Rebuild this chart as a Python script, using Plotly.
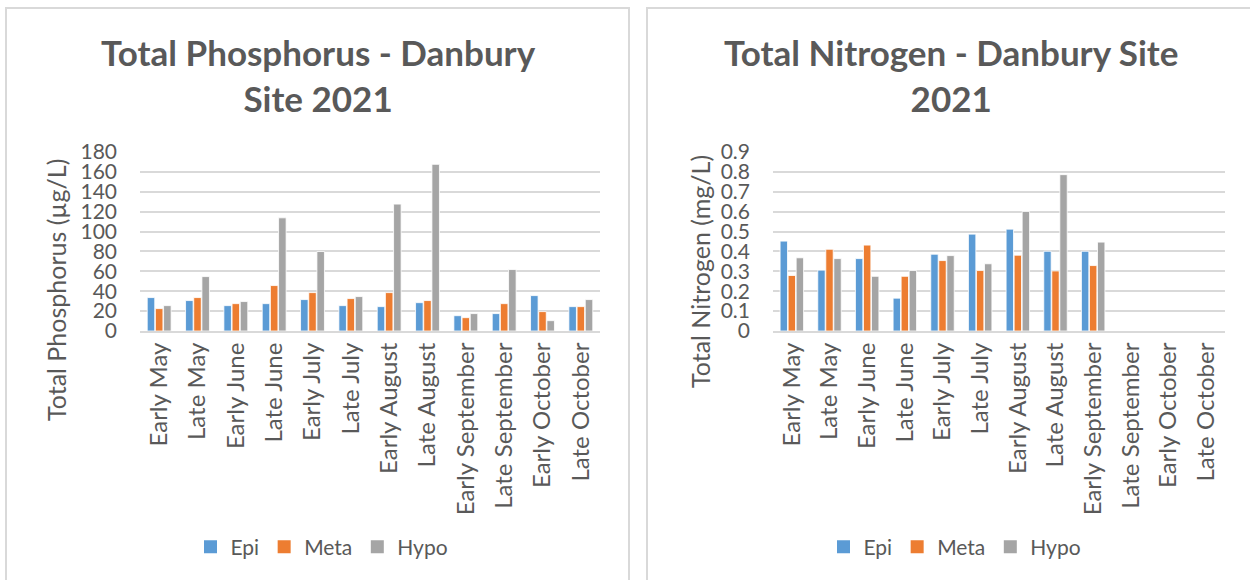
import plotly.graph_objects as go

W, H = 1250, 580

categories = ["Early May", "Late May", "Early June", "Late June", "Early July", "Late July",
              "Early August", "Late August", "Early September", "Late September",
              "Early October", "Late October"]

tp_epi = [33.6, 30.6, 25.5, 27.5, 31.6, 25.5, 24.5, 28.5, 15.4, 17.5, 35.6, 24.5]
tp_meta = [22.5, 33.6, 27.5, 45.7, 38.6, 32.6, 38.6, 30.6, 13.4, 27.5, 19.5, 24.5]
tp_hypo = [25.5, 54.7, 29.6, 113.8, 79.9, 34.6, 127.6, 167.6, 17.5, 61.8, 10.4, 31.6]

tn_epi = [0.452, 0.306, 0.364, 0.165, 0.386, 0.487, 0.512, 0.401, 0.401, None, None, None]
tn_meta = [0.279, 0.411, 0.432, 0.275, 0.354, 0.304, 0.381, 0.302, 0.329, None, None, None]
tn_hypo = [0.368, 0.364, 0.275, 0.304, 0.379, 0.338, 0.601, 0.786, 0.447, None, None, None]

series_names = ["Epi", "Meta", "Hypo"]
colors = ["#5B9BD5", "#ED7D31", "#A5A5A5"]

FONT = "Lato"
TXT = "#595959"
GRID = "#D9D9D9"


def px_x(p):
    return p / W


def px_y(p):
    return 1 - p / H


fig = go.Figure()

for name, vals, col in zip(series_names, [tp_epi, tp_meta, tp_hypo], colors):
    fig.add_trace(go.Bar(x=categories, y=vals, name=name, marker_color=col,
                         marker_line=dict(color="white", width=0.8), showlegend=False,
                         xaxis="x", yaxis="y"))
for name, vals, col in zip(series_names, [tn_epi, tn_meta, tn_hypo], colors):
    fig.add_trace(go.Bar(x=categories, y=vals, name=name, marker_color=col,
                         marker_line=dict(color="white", width=0.8), showlegend=False,
                         xaxis="x2", yaxis="y2"))

# Legend entries with square swatches
for leg, xa, ya in [("legend", "x", "y"), ("legend2", "x2", "y2")]:
    for name, col in zip(series_names, colors):
        fig.add_trace(go.Scatter(x=[None], y=[None], mode="markers", name=name,
                                 marker=dict(symbol="square", size=13, color=col),
                                 xaxis=xa, yaxis=ya, legend=leg, showlegend=True))

fig.update_layout(
    width=W, height=H,
    margin=dict(l=0, r=0, t=0, b=0, pad=0),
    paper_bgcolor="white", plot_bgcolor="white",
    barmode="group", bargap=0.36, bargroupgap=0.08,
    font=dict(family=FONT, color=TXT),
    xaxis=dict(domain=[px_x(140), px_x(600)], anchor="y", tickangle=-90, automargin=False,
               tickfont=dict(size=24, color=TXT, family=FONT), showgrid=False,
               showline=True, linecolor=GRID, linewidth=2, ticks=""),
    yaxis=dict(domain=[px_y(331), px_y(152)], anchor="x", range=[0, 180], dtick=20, automargin=False,
               tickfont=dict(size=21, color=TXT, family=FONT), gridcolor=GRID, gridwidth=2,
               zeroline=False, showline=False, ticklabelstandoff=22),
    xaxis2=dict(domain=[px_x(773), px_x(1225)], anchor="y2", tickangle=-90, automargin=False,
                tickfont=dict(size=24, color=TXT, family=FONT), showgrid=False,
                showline=True, linecolor=GRID, linewidth=2, ticks=""),
    yaxis2=dict(domain=[px_y(331), px_y(152)], anchor="x2", range=[0, 0.9], dtick=0.1, automargin=False,
                tickfont=dict(size=21, color=TXT, family=FONT), gridcolor=GRID, gridwidth=2,
                zeroline=False, showline=False, ticklabelstandoff=22),
    legend=dict(orientation="h", x=px_x(322), xanchor="center", y=px_y(547), yanchor="middle",
                font=dict(size=21, color=TXT, family=FONT), itemwidth=30, itemsizing="trace",
                bgcolor="rgba(0,0,0,0)"),
    legend2=dict(orientation="h", x=px_x(955), xanchor="center", y=px_y(547), yanchor="middle",
                 font=dict(size=21, color=TXT, family=FONT), itemwidth=30, itemsizing="trace",
                 bgcolor="rgba(0,0,0,0)"),
    showlegend=True,
)

# Panel borders
fig.add_shape(type="rect", xref="paper", yref="paper",
              x0=px_x(6), x1=px_x(629), y0=px_y(600), y1=px_y(8),
              line=dict(color=GRID, width=2), fillcolor="rgba(0,0,0,0)", layer="below")
fig.add_shape(type="rect", xref="paper", yref="paper",
              x0=px_x(647), x1=px_x(1262), y0=px_y(600), y1=px_y(8),
              line=dict(color=GRID, width=2), fillcolor="rgba(0,0,0,0)", layer="below")

# Titles
fig.add_annotation(text="<b>Total Phosphorus - Danbury<br>Site 2021</b>", xref="paper", yref="paper",
                   x=px_x(318), y=px_y(75), xanchor="center", yanchor="middle", showarrow=False,
                   font=dict(size=35, color=TXT, family=FONT), align="center")
fig.add_annotation(text="<b>Total Nitrogen - Danbury Site<br>2021</b>", xref="paper", yref="paper",
                   x=px_x(951), y=px_y(75), xanchor="center", yanchor="middle", showarrow=False,
                   font=dict(size=35, color=TXT, family=FONT), align="center")

# Axis titles
fig.add_annotation(text="Total Phosphorus (µg/L)", xref="paper", yref="paper",
                   x=px_x(56), y=px_y(290), xanchor="center", yanchor="middle", showarrow=False,
                   textangle=-90, font=dict(size=25, color=TXT, family=FONT))
fig.add_annotation(text="Total Nitrogen (mg/L)", xref="paper", yref="paper",
                   x=px_x(700), y=px_y(272), xanchor="center", yanchor="middle", showarrow=False,
                   textangle=-90, font=dict(size=25, color=TXT, family=FONT))

fig.write_html("out.html", config={"displayModeBar": False},
               post_script="document.body.style.margin='0';document.body.style.overflow='hidden';")
